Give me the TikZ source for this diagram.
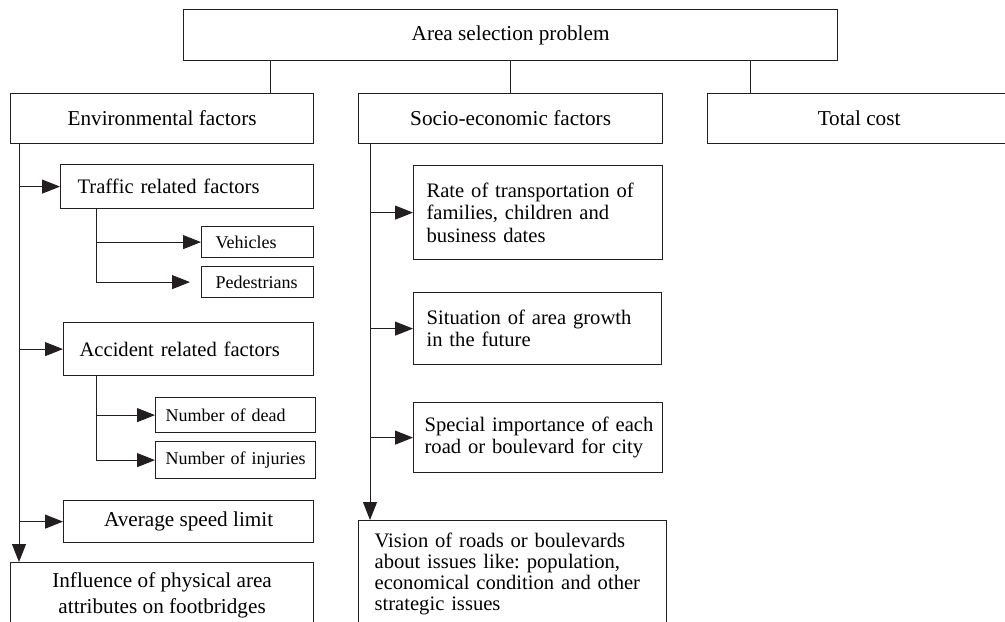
\documentclass[tikz,border=0pt]{standalone}
\usepackage{fontspec}
\setmainfont{Liberation Serif}
\usetikzlibrary{arrows.meta}
\definecolor{asink}{RGB}{35,31,32}
\tikzset{
  asbox/.style={
    rectangle, draw=asink, line width=0.6pt, anchor=north west,
    inner xsep=4pt, inner ysep=2pt, font=\fontsize{10.6}{11}\selectfont
  },
  asleft/.style={asbox, align=left, inner xsep=6.5pt, font=\fontsize{10.3}{11.2}\selectfont},
  assmall/.style={asleft, inner xsep=7pt, font=\fontsize{9}{10}\selectfont},
  asline/.style={draw=asink, line width=0.5pt},
  asarrow/.style={asline, -{Triangle[length=9pt,width=7pt]}}
}

\begin{document}
\begin{tikzpicture}[x=0.5pt,y=-0.5pt]
  \useasboundingbox (0,0) rectangle (1005,621);
  \clip (0,0) rectangle (1005,621);

  % Problem and the three groups of factors
  \node[asbox, minimum width=327pt, minimum height=25.5pt] (area) at (183,9) {Area selection problem};
  \node[asbox, minimum width=151.5pt, minimum height=25pt] (env) at (10,93) {Environmental factors};
  \node[asbox, minimum width=152pt, minimum height=25pt] (socio) at (358,93) {Socio-economic factors};
  \node[asbox, minimum width=151.5pt, minimum height=25pt] (total) at (707,93) {Total cost};
  \coordinate (aleft) at ([xshift=-120pt]area.south);
  \coordinate (aright) at ([xshift=120pt]area.south);
  \draw[asline] (aleft) -- (aleft |- env.north);
  \draw[asline] (area.south) -- (socio.north);
  \draw[asline] (aright) -- (aright |- total.north);

  % Environmental factors
  \node[asleft, inner xsep=8.5pt, text width=109.5pt, minimum height=22pt] (traffic) at (60,164) {Traffic related factors};
  \node[assmall, text width=42pt, minimum height=15.5pt] (vehicles) at (201,226) {Vehicles};
  \node[assmall, text width=42pt, minimum height=15.5pt] (pedestrians) at (201,266) {Pedestrians};
  \node[asleft, inner xsep=8pt, text width=109pt, minimum height=26.5pt] (accident) at (63,322) {Accident related factors};
  \node[assmall, inner xsep=5pt, text width=70pt, minimum height=17.5pt] (dead) at (155,397) {Number of dead};
  \node[assmall, inner xsep=5pt, text width=70pt, minimum height=18.5pt] (injuries) at (155,441) {Number of injuries};
  \node[asbox, minimum width=125pt, minimum height=21pt] (speed) at (63,500) {Average speed limit};
  \node[asbox, align=center, inner ysep=5pt, minimum width=151.5pt] (influence) at (10,562)
    {Influence of physical area\\[2pt] attributes on footbridges\\[20pt]};
  \coordinate (etrunk) at ([xshift=4.5pt]env.south west);
  \coordinate (ttrunk) at ([xshift=18pt]traffic.south west);
  \coordinate (atrunk) at ([xshift=16.5pt]accident.south west);
  \draw[asarrow] (etrunk) -- (etrunk |- influence.north);
  \foreach \n in {traffic,accident,speed}
    \draw[asarrow] (\n.west -| etrunk) -- (\n.west);
  \draw[asarrow] (ttrunk) |- (vehicles.west);
  \draw[asarrow, shorten >=5.5pt] (ttrunk) |- (pedestrians.west);
  \draw[asarrow] (atrunk) |- (dead.west);
  \draw[asarrow] (atrunk) |- (injuries.west);

  % Socio-economic factors
  \node[asleft, text width=111.5pt, minimum height=47pt] (rate) at (413,165)
    {Rate of transportation of\\ families, children and\\ business dates};
  \node[asleft, text width=111pt, minimum height=36pt] (growth) at (413,292)
    {Situation of area growth\\ in the future};
  \node[asleft, inner xsep=3.5pt, text width=117.5pt, minimum height=35pt] (special) at (413,402)
    {\hspace*{2pt}Special importance of each\\ \hspace*{2pt}road or boulevard for city};
  \node[asleft, inner xsep=8pt, inner ysep=6pt, text width=138pt,
        font=\fontsize{10.3}{10.5}\selectfont] (vision) at (358,520)
    {Vision of roads or boulevards\\ about issues like:\ population,\\ economical condition and other\\ strategic issues\\[20pt]};
  \coordinate (strunk) at ([xshift=6pt]socio.south west);
  \draw[asarrow] (strunk) -- (strunk |- vision.north);
  \foreach \n in {rate,growth,special}
    \draw[asarrow] (\n.west -| strunk) -- (\n.west);
\end{tikzpicture}
\end{document}
